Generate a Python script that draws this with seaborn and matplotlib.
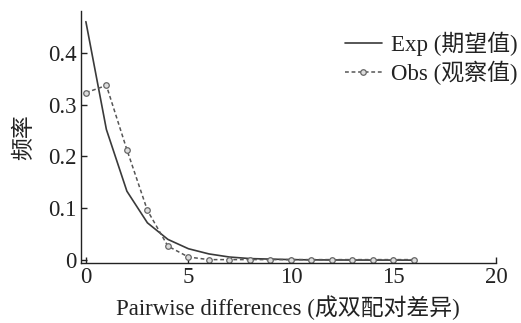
import numpy as np
import pandas as pd
import matplotlib
matplotlib.use('Agg')
import matplotlib.pyplot as plt
import seaborn as sns

# values
diffs = list(range(0, 17))
exp_freq = [0.460, 0.252, 0.133, 0.072, 0.040, 0.022, 0.012, 0.006, 0.003,
            0.002, 0.001, 0.0005, 0.0003, 0.0002, 0.0001, 0.0001, 0.0]
obs_freq = [0.323, 0.337, 0.213, 0.096, 0.027, 0.006, 0.001, 0.001, 0.001,
            0.001, 0.001, 0.001, 0.001, 0.001, 0.001, 0.001, 0.001]
xticks = [0, 5, 10, 15, 20]
yticks = [0, 0.1, 0.2, 0.3, 0.4]
yticklabels = ['0', '0.1', '0.2', '0.3', '0.4']

df = pd.DataFrame({'x': diffs, 'exp': exp_freq, 'obs': obs_freq})

sns.set_style('ticks')
plt.rcParams['font.family'] = ['Liberation Serif', 'Noto Sans CJK SC']
plt.rcParams['axes.unicode_minus'] = False

fig, ax = plt.subplots(figsize=(5.21, 3.23), dpi=100)
sns.lineplot(data=df, x='x', y='exp', ax=ax, color='#3a3a3a', lw=1.2,
             label='Exp (期望值)')
sns.lineplot(data=df, x='x', y='obs', ax=ax, color='#555555', lw=1.1,
             linestyle=(0, (2.5, 1.8)), marker='o', markersize=4,
             markerfacecolor='#dddddd', markeredgecolor='#666666',
             markeredgewidth=0.9, label='Obs (观察值)')

ax.set_xlim(-0.25, 20)
ax.set_ylim(-0.006, 0.48)
ax.set_xticks(xticks)
ax.set_yticks(yticks)
ax.set_yticklabels(yticklabels)
ax.tick_params(direction='in', length=4, width=1, labelsize=16.5, colors='#222222', pad=3)
ax.set_xlabel('Pairwise differences (成双配对差异)', fontsize=16.5, color='#222222', labelpad=5)
ax.set_ylabel('频率', fontsize=16.5, color='#222222', labelpad=9)
sns.despine(ax=ax)
for s in ['left', 'bottom']:
    ax.spines[s].set_color('#222222')
    ax.spines[s].set_linewidth(1.0)

leg = ax.legend(loc='upper right', frameon=False, fontsize=16.5, handlelength=1.6,
                handletextpad=0.4, borderaxespad=0.2, labelspacing=0.2,
                bbox_to_anchor=(1.085, 0.975))
for t in leg.get_texts():
    t.set_color('#222222')

plt.subplots_adjust(left=0.155, right=0.952, top=0.965, bottom=0.185)
plt.savefig('out.png', dpi=100)
